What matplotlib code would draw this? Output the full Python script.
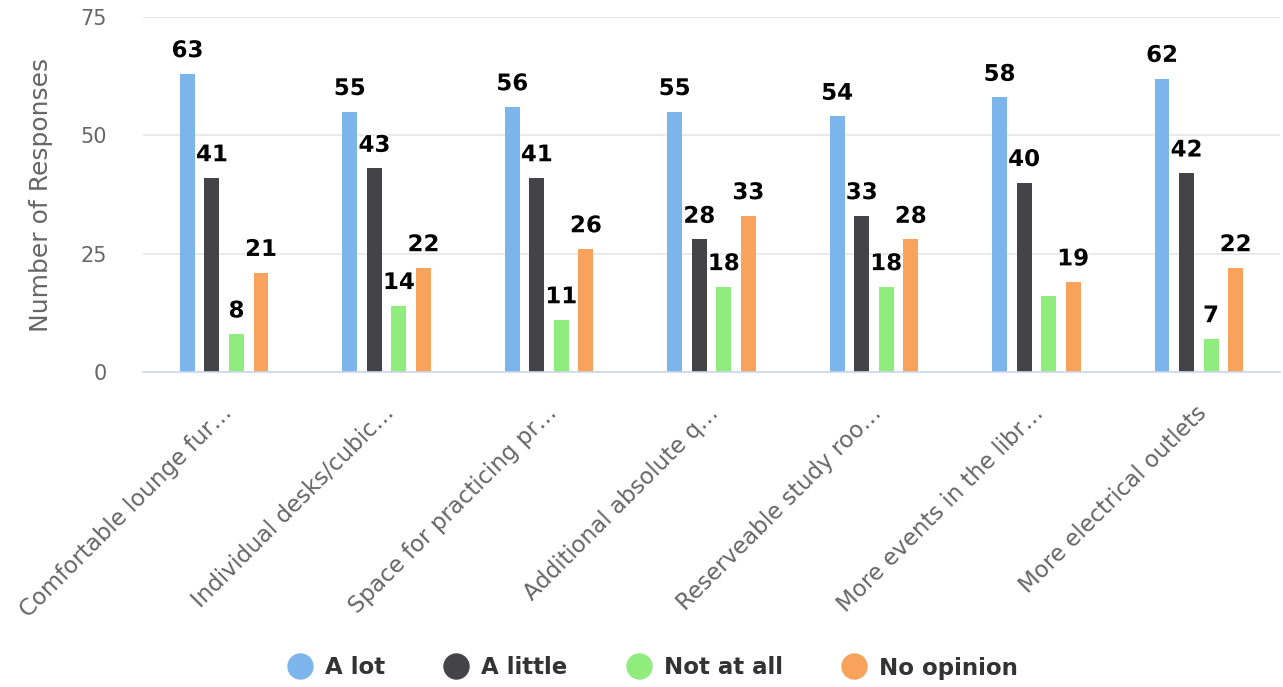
import matplotlib
matplotlib.use("Agg")
import matplotlib.pyplot as plt
import matplotlib.patheffects as pe
from matplotlib.lines import Line2D
from matplotlib.transforms import ScaledTranslation
import numpy as np

# Survey data: how much each library improvement would be appreciated
categories = [
    "Comfortable lounge fur\u2026",
    "Individual desks/cubic\u2026",
    "Space for practicing pr\u2026",
    "Additional absolute q\u2026",
    "Reserveable study roo\u2026",
    "More events in the libr\u2026",
    "More electrical outlets",
]
series_names = ["A lot", "A little", "Not at all", "No opinion"]
a_lot = [63, 55, 56, 55, 54, 58, 62]
a_little = [41, 43, 41, 28, 33, 40, 42]
not_at_all = [8, 14, 11, 18, 18, 16, 7]
no_opinion = [21, 22, 26, 33, 28, 19, 22]
y_ticks = [0, 25, 50, 75]

series_values = [a_lot, a_little, not_at_all, no_opinion]
colors = ["#7cb5ec", "#434348", "#90ed7d", "#f7a35c"]

W, H, DPI = 1283, 687, 100
fig = plt.figure(figsize=(W / DPI, H / DPI), dpi=DPI)
ax = fig.add_axes([143 / W, 1 - 372 / H, (1280 - 143) / W, (372 - 17) / H])

x = np.arange(len(categories))
bar_w = 0.092
step = 0.151

label_font = dict(family="DejaVu Sans", fontsize=16.5, fontweight="bold", color="#000000")
outline = [pe.withStroke(linewidth=2, foreground="white")]

labels_by_group = [[] for _ in categories]
for k, (vals, col) in enumerate(zip(series_values, colors)):
    xs = x + (k - 1.5) * step
    ax.bar(xs, vals, width=bar_w, color=col, zorder=3, linewidth=0)
    for i, (xi, v) in enumerate(zip(xs, vals)):
        t = ax.annotate(str(v), (xi, v), xytext=(0, 12), textcoords="offset points",
                        ha="center", va="baseline", zorder=5, path_effects=outline,
                        **label_font)
        labels_by_group[i].append((v, t))

ax.set_xlim(-0.5, len(categories) - 0.5)
ax.set_ylim(0, 75)
ax.set_yticks(y_ticks)
ax.set_yticklabels([str(t) for t in y_ticks], family="DejaVu Sans", fontsize=15, color="#666666")
ax.tick_params(axis="y", length=0, pad=26)

ax.set_xticks(x)
ax.set_xticklabels(categories, rotation=45, ha="right", va="center",
                   rotation_mode="anchor", family="DejaVu Sans", fontsize=16.5,
                   color="#666666")
ax.tick_params(axis="x", length=0, pad=27)
for lbl in ax.get_xticklabels():
    lbl.set_transform(lbl.get_transform() + ScaledTranslation(4 / DPI, 0, fig.dpi_scale_trans))

ax.set_ylabel("Number of Responses", family="DejaVu Sans", fontsize=18, color="#666666")
ax.yaxis.set_label_coords(-0.079, 0.5)

ax.grid(axis="y", color="#e6e6e6", linewidth=1.2, zorder=0)
ax.set_axisbelow(True)
for side in ["top", "right", "left"]:
    ax.spines[side].set_visible(False)
ax.spines["bottom"].set_color("#ccd6eb")
ax.spines["bottom"].set_linewidth(1.2)
ax.spines["bottom"].set_zorder(4)

# Hide data labels that collide with a neighbour's label (keep the larger value)
fig.canvas.draw()
renderer = fig.canvas.get_renderer()
for group in labels_by_group:
    for a in range(len(group)):
        for b in range(a + 1, len(group)):
            va_, ta = group[a]
            vb_, tb = group[b]
            if not (ta.get_visible() and tb.get_visible()):
                continue
            ea = ta.get_window_extent(renderer)
            eb = tb.get_window_extent(renderer)
            if ea.overlaps(eb):
                (tb if vb_ < va_ else ta).set_visible(False)

handles = [Line2D([], [], linestyle="none", marker="o", markersize=18,
                  markerfacecolor=c, markeredgecolor=c) for c in colors]
leg = fig.legend(handles, series_names, loc="center", bbox_to_anchor=(653 / W, 1 - 668 / H),
                 ncol=4, frameon=False, handlelength=1.0, handletextpad=0.6,
                 columnspacing=2.6, prop=dict(family="DejaVu Sans", size=16.5, weight="bold"))
for txt in leg.get_texts():
    txt.set_color("#333333")

fig.savefig("out.png", dpi=DPI)
